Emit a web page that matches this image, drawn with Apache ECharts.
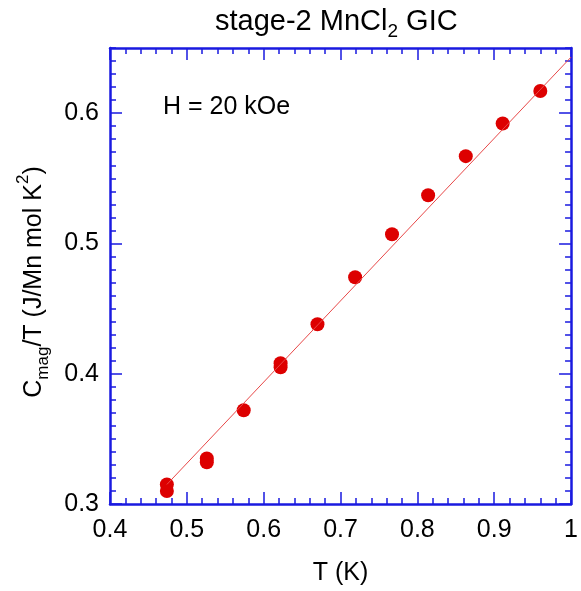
<!DOCTYPE html>
<html><head><meta charset="utf-8">
<script src="https://cdn.jsdelivr.net/npm/echarts@6/dist/echarts.min.js"></script>
<style>html,body{margin:0;padding:0;background:#fff}#c{width:581px;height:591px}</style>
</head><body><div id="c"></div>
<script>
// data
const temperatureK = [0.474, 0.474, 0.526, 0.526, 0.574, 0.622, 0.622, 0.670, 0.719, 0.767, 0.814, 0.863, 0.911, 0.960];
const cmagOverT    = [0.310, 0.315, 0.332, 0.335, 0.372, 0.405, 0.408, 0.438, 0.474, 0.507, 0.537, 0.567, 0.592, 0.617];
const fitT = [0.474, 1.0];
const fitC = [0.315, 0.643];
const yMajorTicks = [0.3, 0.4, 0.5, 0.6];
const annotation = 'H = 20 kOe';

const FONT = 'Liberation Sans';
const BLUE = '#1a1ae0';
const chart = echarts.init(document.getElementById('c'), null, {renderer: 'canvas'});

const tickStyle = {color: BLUE, width: 1.5};
function xAx(pos, labels) {
  return {
    type: 'value', position: pos, min: 0.4, max: 1.0, interval: 0.1,
    axisLine: {show: true, onZero: false, lineStyle: {color: BLUE, width: 2.5}},
    axisTick: {show: true, inside: true, length: 12, lineStyle: tickStyle},
    minorTick: {show: true, splitNumber: 5, length: 6, lineStyle: tickStyle},
    splitLine: {show: false},
    axisLabel: {show: labels, fontSize: 25, color: '#000', fontFamily: FONT, margin: 14},
    name: labels ? 'T (K)' : '', nameLocation: 'middle', nameGap: 57,
    nameTextStyle: {fontSize: 25, color: '#000', fontFamily: FONT}
  };
}
function yMinor(pos) {
  return {
    type: 'value', position: pos, min: 0.3, max: 0.65, interval: 0.01,
    axisLine: {show: true, onZero: false, lineStyle: {color: BLUE, width: 2.5}},
    axisTick: {show: true, inside: true, length: 6, lineStyle: tickStyle},
    axisLabel: {show: false}, splitLine: {show: false}
  };
}
function yMajor(pos, labels) {
  return {
    type: 'value', position: pos, min: 0.3, max: 0.65, interval: 0.05,
    axisLine: {show: false, onZero: false},
    axisTick: {show: true, inside: true, length: 12, lineStyle: tickStyle, customValues: yMajorTicks},
    axisLabel: {show: labels, customValues: yMajorTicks, fontSize: 25, color: '#000', fontFamily: FONT, margin: 11,
      formatter: v => String(Math.round(v * 10) / 10)},
    splitLine: {show: false},
    name: labels ? '{a|C}{sub|mag}{a|/T (J/Mn mol K}{sup|2}{a|)}' : '',
    nameLocation: 'middle', nameGap: 70,
    nameTextStyle: {
      color: '#000', fontFamily: FONT, padding: [0, 12, 0, 0],
      rich: {
        a: {fontSize: 25, lineHeight: 25, padding: [7, 0, 0, 0], verticalAlign: 'top', fontFamily: FONT, color: '#000'},
        sub: {fontSize: 17, lineHeight: 17, padding: [20, 0, 0, 0], verticalAlign: 'top', fontFamily: FONT, color: '#000'},
        sup: {fontSize: 17, lineHeight: 17, padding: [0, 0, 0, 0], verticalAlign: 'top', fontFamily: FONT, color: '#000'}
      }
    }
  };
}

chart.setOption({
  backgroundColor: '#fff',
  animation: false,
  title: {
    text: '{a|stage-2 MnCl}{sub|2}{a| GIC}',
    left: 210, top: 2,
    textStyle: {
      rich: {
        a: {fontSize: 29, lineHeight: 29, verticalAlign: 'top', fontFamily: FONT, color: '#000', fontWeight: 'normal'},
        sub: {fontSize: 19, lineHeight: 19, padding: [15, 0, 0, 0], verticalAlign: 'top', fontFamily: FONT, color: '#000', fontWeight: 'normal'}
      }
    }
  },
  grid: {left: 110, right: 9, top: 48, bottom: 82, containLabel: false},
  xAxis: [xAx('bottom', true), xAx('top', false)],
  yAxis: [yMinor('left'), yMajor('left', true), yMinor('right'), yMajor('right', false)],
  graphic: [{
    type: 'text', left: 163, top: 95,
    style: {text: annotation, fontSize: 25, fontFamily: FONT, fill: '#000'}
  }],
  series: [
    {
      type: 'line', xAxisIndex: 0, yAxisIndex: 1,
      data: fitT.map((t, i) => [t, fitC[i]]),
      symbol: 'none', lineStyle: {color: '#e84848', width: 1}, silent: true
    },
    {
      type: 'scatter', xAxisIndex: 0, yAxisIndex: 1,
      data: temperatureK.map((t, i) => [t, cmagOverT[i]]),
      symbol: 'circle', symbolSize: 14, itemStyle: {color: '#dd0000', opacity: 1}
    }
  ]
});
</script></body></html>
